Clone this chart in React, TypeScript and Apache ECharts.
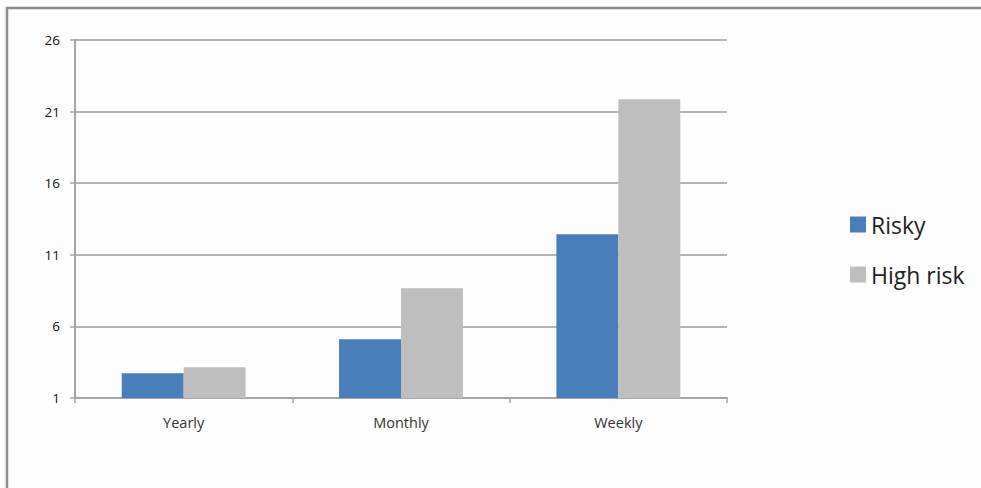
import React, { useEffect, useRef } from "react";
import * as echarts from "echarts";

// Frequency categories on the x axis
const categories: string[] = ["Yearly", "Monthly", "Weekly"];

// Series values
const riskyValues: number[] = [2.72, 5.1, 12.43];
const highRiskValues: number[] = [3.14, 8.66, 21.86];

// Value axis range and step
const yMin = 1;
const yMax = 26;
const yStep = 5;

const FONT = "'Open Sans', 'Noto Sans', sans-serif";

export default function App() {
  const ref = useRef<HTMLDivElement>(null);

  useEffect(() => {
    if (!ref.current) return;
    const chart = echarts.init(ref.current, null, { renderer: "svg" });
    chart.setOption({
      animation: false,
      backgroundColor: "#fdfdfd",
      grid: { left: 75, right: 254, top: 40, bottom: 90, containLabel: false },
      legend: {
        orient: "vertical",
        left: 845,
        top: 208,
        itemWidth: 16,
        itemHeight: 16,
        itemGap: 27,
        icon: "rect",
        textStyle: { fontFamily: FONT, fontSize: 23, color: "#222" },
        data: ["Risky", "High risk"],
      },
      xAxis: {
        type: "category",
        data: categories,
        axisLine: { lineStyle: { color: "#a6a6a6", width: 2 } },
        axisTick: { show: true, length: 5, lineStyle: { color: "#a6a6a6", width: 1.5 } },
        axisLabel: { fontFamily: FONT, fontSize: 14.5, color: "#333", margin: 17 },
      },
      yAxis: {
        type: "value",
        min: yMin,
        max: yMax,
        interval: yStep,
        axisLine: { show: true, lineStyle: { color: "#a6a6a6", width: 2 } },
        axisTick: { show: true, length: 5, lineStyle: { color: "#a6a6a6", width: 1.5 } },
        axisLabel: { fontFamily: FONT, fontSize: 13.5, color: "#111", margin: 15 },
        splitLine: { lineStyle: { color: "#b3b3b3", width: 2 } },
      },
      series: [
        {
          name: "Risky",
          type: "bar",
          data: riskyValues,
          itemStyle: { color: "#4a7ebb" },
          barGap: "0%",
          barCategoryGap: "43%",
        },
        {
          name: "High risk",
          type: "bar",
          data: highRiskValues,
          itemStyle: { color: "#bebebe" },
          barGap: "0%",
          barCategoryGap: "43%",
        },
      ],
      graphic: [
        {
          type: "polyline",
          silent: true,
          shape: { points: [[7, 500], [7, 8], [1000, 8]] },
          style: { stroke: "#8c8c8c", lineWidth: 2.5, fill: "none" },
        },
      ],
    });
    return () => chart.dispose();
  }, []);

  return (
    <div
      ref={ref}
      style={{ position: "absolute", left: 0, top: 0, width: 981, height: 488 }}
    />
  );
}
